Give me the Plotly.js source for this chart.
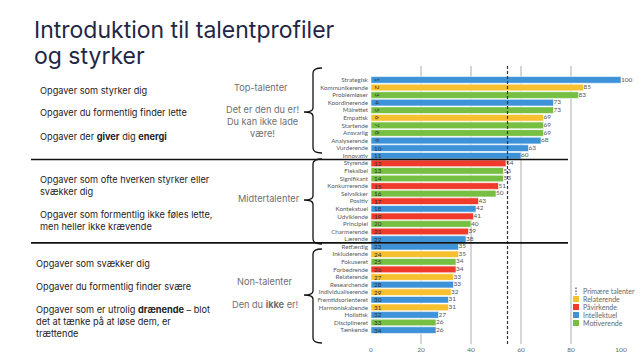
<!DOCTYPE html>
<html>
<head>
<meta charset="utf-8">
<script src="https://cdn.plot.ly/plotly-3.0.1.min.js"></script>
<style>html,body{margin:0;padding:0;background:#fff;}#chart{width:642px;height:360px;}</style>
</head>
<body>
<div id="chart"></div>
<script>
// ---- data ----
const names = ['Strategisk','Kommunikerende','Problemløser','Koordinerende','Målrettet','Empatisk','Startende','Ansvarlig','Analyserende','Vurderende','Innovativ','Styrende','Fleksibel','Signifikant','Konkurrerende','Selvsikker','Positiv','Kontekstuel','Udviklende','Principiel','Charmerende','Lærende','Retfærdig','Inkluderende','Fokuseret','Forbedrende','Relaterende','Researchende','Individualiserende','Fremtidsorienteret','Harmoniskabende','Holistisk','Disciplineret','Tænkende'];
const values = [100,85,83,73,73,69,69,69,68,63,60,54,53,53,51,50,43,42,41,40,39,38,35,35,34,34,33,33,32,31,31,27,26,26];
const ranks = [1,2,3,4,5,6,7,8,9,10,11,12,13,14,15,16,17,18,19,20,21,22,23,24,25,26,27,28,29,30,31,32,33,34];
const groups = ['Intellektuel','Relaterende','Motiverende','Intellektuel','Motiverende','Relaterende','Motiverende','Motiverende','Intellektuel','Intellektuel','Intellektuel','Påvirkende','Motiverende','Motiverende','Påvirkende','Motiverende','Påvirkende','Intellektuel','Påvirkende','Motiverende','Påvirkende','Intellektuel','Intellektuel','Relaterende','Motiverende','Påvirkende','Relaterende','Intellektuel','Relaterende','Intellektuel','Relaterende','Intellektuel','Motiverende','Intellektuel'];
const groupNames = ['Relaterende','Påvirkende','Intellektuel','Motiverende'];
const groupColors = ['#f6c02f','#ee3b2b','#3d92d8','#76bf43'];
const thresholdLabel = 'Primære talenter';
const threshold = 54.6;
const xTickVals = [0,20,40,60,80,100];
const sectionEnds = ['Innovativ','Lærende'];
const titleLines = ['Introduktion til talentprofiler','og styrker'];

// ---- layout geometry ----
const FW = 642, FH = 360;
const M = {l:371, r:21, t:66, b:16};
const PW = FW - M.l - M.r, PH = FH - M.t - M.b;
const px = x => (x - M.l) / PW;
const py = y => (M.t + PH - y) / PH;

const colorOf = g => groupColors[groupNames.indexOf(g)];

const barTrace = {
  type:'bar', orientation:'h',
  y: names, x: values,
  text: ranks.map(String),
  textposition:'inside', insidetextanchor:'start', constraintext:'none',
  textfont:{family:'Lato', size:6.3, color:'#2b2f38'},
  marker:{color: groups.map(colorOf), line:{color:'#ffffff', width:0.6}},
  hoverinfo:'x+y', showlegend:false, cliponaxis:false
};
const valueTrace = {
  type:'scatter', mode:'text',
  y: names, x: values,
  text: values.map(String), textposition:'middle right',
  textfont:{family:'Lato', size:6.5, color:'#555555'},
  hoverinfo:'skip', showlegend:false, cliponaxis:false
};

function brace(y0, ym, y1){
  const xs = 313, xr = 322, xt = 304, r = 5;
  const P = (x,y)=> px(x).toFixed(5)+','+py(y).toFixed(5);
  return 'M'+P(xr,y0)+' Q'+P(xs,y0)+' '+P(xs,y0+r)+' L'+P(xs,ym-4)+' Q'+P(xs,ym)+' '+P(xt,ym)+
         ' Q'+P(xs,ym)+' '+P(xs,ym+4)+' L'+P(xs,y1-r)+' Q'+P(xs,y1)+' '+P(xr,y1);
}

const shapes = [];
shapes.push({type:'line', xref:'x', yref:'paper', x0:threshold, x1:threshold, y0:0, y1:1,
  line:{color:'#333333', width:1.2, dash:'3px,2px'}});
sectionEnds.forEach(n=>{
  const idx = names.indexOf(n) + 0.5;
  shapes.push({type:'line', xref:'paper', yref:'y', x0:px(31), x1:px(568), y0:idx, y1:idx,
    line:{color:'#111111', width:1.6}});
});
[[68,112,153],[159,200,244],[249,295,343]].forEach(b=>{
  shapes.push({type:'path', xref:'paper', yref:'paper', path:brace(b[0],b[1],b[2]),
    line:{color:'#111111', width:1.3}});
});
const legX = 573, legY0 = 291, legStep = 8;
shapes.push({type:'line', xref:'paper', yref:'paper', x0:px(576), x1:px(576), y0:py(legY0-3.5), y1:py(legY0+3.5),
  line:{color:'#444', width:1.2, dash:'1.5px,1.5px'}});
groupNames.forEach((g,i)=>{
  const cy = legY0 + legStep*(i+1);
  shapes.push({type:'rect', xref:'paper', yref:'paper', x0:px(legX), x1:px(legX+6), y0:py(cy+3), y1:py(cy-3),
    fillcolor:groupColors[i], line:{width:0}});
});

const annotations = [];
const A = (text, x, y, opt={}) => annotations.push(Object.assign({
  text, xref:'paper', yref:'paper', x:px(x), y:py(y), xanchor:'left', yanchor:'middle',
  showarrow:false, align:'left',
  font:{family:'Inter', size:9.2, color:'#222222'}
}, opt));
const G = {family:'Inter', size:9.2, color:'#6f6f6f'};
const TF = {family:'Inter', size:23, color:'#1e2846'};

A(titleLines[0], 32, 30, {font:TF});
A(titleLines[1], 32, 55.5, {font:TF});

A(thresholdLabel, 581, legY0, {font:{family:'Lato', size:7, color:'#666'}});
groupNames.forEach((g,i)=> A(g, 581, legY0 + legStep*(i+1), {font:{family:'Lato', size:7, color:'#666'}}));

A('Opgaver som styrker dig', 38, 90);
A('Opgaver du formentlig finder lette', 38, 113);
A('Opgaver der <b>giver</b> dig <b>energi</b>', 38, 136);
A('Top-talenter', 261, 87, {xanchor:'center', font:G});
A('Det er den du er!<br>Du kan ikke lade<br>være!', 262, 121, {xanchor:'center', align:'center', font:G});

A('Opgaver som ofte hverken styrker eller<br>svækker dig', 38, 185.5);
A('Opgaver som formentlig ikke føles lette,<br>men heller ikke krævende', 38, 220);
A('Midtertalenter', 302, 198, {xanchor:'right', font:G});

A('Opgaver som svækker dig', 34, 263);
A('Opgaver du formentlig finder svære', 34, 286);
A('Opgaver som er utrolig <b>drænende</b> – blot<br>det at tænke på at løse dem, er<br>trættende', 34, 321);
A('Non-talenter', 265, 281, {xanchor:'center', font:G});
A('Den du <b>ikke</b> er!', 265, 304, {xanchor:'center', font:G});

const layout = {
  width:FW, height:FH, margin:M,
  paper_bgcolor:'#ffffff', plot_bgcolor:'#ffffff',
  bargap:0.12,
  xaxis:{range:[0,100], tickvals:xTickVals, showgrid:true, gridcolor:'#d6d6d6', gridwidth:1.5,
    zeroline:false, showline:false, ticks:'', tickfont:{family:'Lato', size:6.5, color:'#666'}, fixedrange:true},
  yaxis:{type:'category', categoryorder:'array', categoryarray:names, autorange:'reversed',
    tickmode:'array', tickvals:names, ticktext:names,
    showgrid:false, ticks:'', ticklabelstandoff:2, tickfont:{family:'Lato', size:6.2, color:'#595959'}, fixedrange:true},
  shapes, annotations, showlegend:false
};

Plotly.newPlot('chart', [barTrace, valueTrace], layout, {displayModeBar:false, staticPlot:true});
</script>
</body>
</html>
